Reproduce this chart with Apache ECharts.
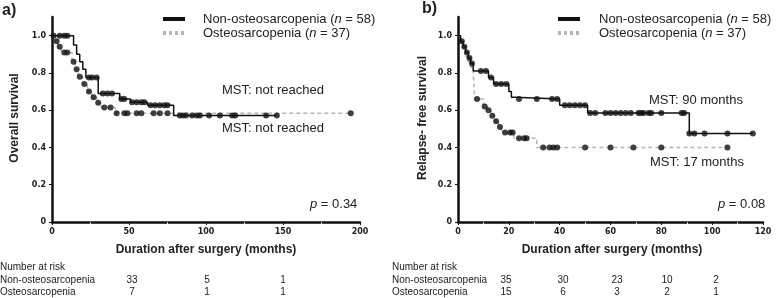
<!DOCTYPE html>
<html>
<head>
<meta charset="utf-8">
<script src="https://cdn.jsdelivr.net/npm/echarts@6/dist/echarts.min.js"></script>
<style>
  html, body { margin: 0; padding: 0; background: #fff; }
  #chart { width: 779px; height: 298px; }
</style>
</head>
<body>
<div id="chart"></div>
<script>
// a) overall survival - step curves (months, survival)
const osNonT = [0, 14, 16, 18, 20, 22, 30, 44, 51, 62, 79, 146];
const osNonS = [1.0, 0.95, 0.9, 0.86, 0.82, 0.775, 0.69, 0.66, 0.643, 0.626, 0.572, 0.572];
const osOstT = [0, 2, 4, 6, 13, 15, 17, 20, 23, 26, 29, 32, 41, 194];
const osOstS = [1.0, 0.97, 0.94, 0.91, 0.86, 0.82, 0.78, 0.74, 0.7, 0.67, 0.64, 0.615, 0.583, 0.583];
// censored points
const osNonCensT = [5, 8, 10, 24, 26, 29, 33, 36, 39, 45, 47, 52, 55, 58, 60, 64, 67, 70, 73, 75, 83, 85, 87, 91, 94, 96, 102, 109, 117, 119, 139, 146];
const osNonCensS = [1.0, 1.0, 1.0, 0.775, 0.775, 0.775, 0.69, 0.69, 0.69, 0.66, 0.66, 0.643, 0.643, 0.643, 0.643, 0.626, 0.626, 0.626, 0.626, 0.626, 0.572, 0.572, 0.572, 0.572, 0.572, 0.572, 0.572, 0.572, 0.572, 0.572, 0.572, 0.572];
const osOstCensT = [1, 3, 5, 8, 10, 14, 16, 18, 21, 24, 27, 30, 34, 38, 42, 47, 49, 55, 58, 66, 70, 75, 194];
const osOstCensS = [1.0, 0.97, 0.94, 0.91, 0.91, 0.86, 0.82, 0.78, 0.74, 0.7, 0.67, 0.64, 0.615, 0.615, 0.583, 0.583, 0.583, 0.583, 0.583, 0.583, 0.583, 0.583, 0.583];

// b) relapse-free survival
const rfsNonT = [0, 1, 2, 3, 4, 5, 6, 12, 14, 20, 21, 22, 40, 51, 91, 116];
const rfsNonS = [1.0, 0.97, 0.94, 0.91, 0.88, 0.85, 0.81, 0.775, 0.74, 0.7, 0.67, 0.66, 0.627, 0.585, 0.475, 0.475];
const rfsOstT = [0, 1, 2, 3, 4, 5, 6, 6.5, 10, 11.5, 13, 14.5, 16, 17, 22, 31, 106];
const rfsOstS = [1.0, 0.96, 0.93, 0.89, 0.86, 0.83, 0.81, 0.66, 0.62, 0.6, 0.57, 0.54, 0.51, 0.48, 0.45, 0.4, 0.4];
const rfsNonCensT = [1.5, 2.5, 3.5, 4.5, 5.5, 9, 11, 13, 15, 17, 19, 24, 31, 37, 39, 42, 44, 46, 48, 50, 52, 54, 58, 60, 62, 64, 66, 68, 71, 72, 73, 75, 76, 80, 88, 89, 91, 93, 97, 106, 116];
const rfsNonCensS = [0.97, 0.94, 0.91, 0.88, 0.85, 0.81, 0.81, 0.775, 0.74, 0.74, 0.74, 0.66, 0.66, 0.66, 0.66, 0.627, 0.627, 0.627, 0.627, 0.627, 0.585, 0.585, 0.585, 0.585, 0.585, 0.585, 0.585, 0.585, 0.585, 0.585, 0.585, 0.585, 0.585, 0.585, 0.585, 0.585, 0.475, 0.475, 0.475, 0.475, 0.475];
const rfsOstCensT = [7.5, 10.5, 12, 13.5, 15, 16.5, 18.5, 20.5, 21.5, 24, 26, 27, 33.5, 36, 37.5, 39, 50, 60, 69, 80, 106];
const rfsOstCensS = [0.66, 0.62, 0.6, 0.57, 0.54, 0.51, 0.48, 0.48, 0.48, 0.45, 0.45, 0.45, 0.4, 0.4, 0.4, 0.4, 0.4, 0.4, 0.4, 0.4, 0.4];

// number at risk
const riskNonA = [33, 5, 1];
const riskOstA = [7, 1, 1];
const riskNonB = [35, 30, 23, 10, 2];
const riskOstB = [15, 6, 3, 2, 1];

const yTicks = [0, 0.2, 0.4, 0.6, 0.8, 1.0];

const zip = (a, b) => a.map((v, i) => [v, b[i]]);

const FONT = '"Liberation Sans", Arial, sans-serif';
const TICKFONT = '"DejaVu Sans", Verdana, sans-serif';

function xAxisOf(gi, max, interval) {
  return {
    type: 'value', gridIndex: gi, min: 0, max: max, interval: interval,
    axisLine: { lineStyle: { color: '#111', width: 2.5 } },
    axisTick: { length: 3, lineStyle: { color: '#111', width: 1 } },
    minorTick: { show: true, splitNumber: 2, length: 2, lineStyle: { color: '#ccc' } },
    splitLine: { show: false },
    axisLabel: { color: '#222', fontSize: 8, fontWeight: 'bold', fontFamily: TICKFONT, margin: 6 },
  };
}
function yAxisOf(gi) {
  return {
    type: 'value', gridIndex: gi, min: 0, max: 1.1, interval: 0.2,
    axisLine: { show: true, lineStyle: { color: '#111', width: 2.5 } },
    axisTick: { show: true, length: 3, customValues: yTicks, lineStyle: { color: '#111' } },
    splitLine: { show: false },
    axisLabel: {
      customValues: yTicks, color: '#222', fontSize: 8, fontWeight: 'bold', fontFamily: TICKFONT, margin: 6,
      formatter: v => (v === 0 ? '0' : v.toFixed(1)),
    },
  };
}
function stepLine(name, gi, t, s, dashed) {
  return {
    name: name, type: 'line', step: 'end', xAxisIndex: gi, yAxisIndex: gi,
    data: zip(t, s), showSymbol: false, silent: true,
    lineStyle: dashed ? { color: '#b5b5b5', width: 1.5, type: [4, 3] } : { color: '#111', width: 1.5 },
    z: dashed ? 2 : 3,
  };
}
function cens(gi, t, s) {
  return {
    type: 'scatter', xAxisIndex: gi, yAxisIndex: gi, data: zip(t, s),
    symbolSize: 6, itemStyle: { color: '#111' }, silent: true, z: 4,
  };
}

function txt(x, y, text, opt) {
  return Object.assign({
    type: 'text', x: x, y: y,
    style: Object.assign({
      text: text, fill: '#222', font: '13px ' + FONT, textAlign: 'left', textVerticalAlign: 'middle',
    }, (opt && opt.style) || {}),
  }, opt && opt.rotation ? { rotation: opt.rotation } : {});
}
function italicText(x, y, text) {
  return {
    type: 'text', x: x, y: y,
    style: {
      text: text, fill: '#222', font: '13px ' + FONT, textVerticalAlign: 'middle',
      rich: { i: { fontStyle: 'italic', fontSize: 13, fontFamily: FONT, fill: '#222' } },
    },
  };
}

const graphics = [];
// panel letters
graphics.push(txt(2, 11, 'a)', { style: { font: 'bold 16px ' + FONT } }));
graphics.push(txt(422, 9, 'b)', { style: { font: 'bold 16px ' + FONT } }));
// legends
[[163, 203], [558, 599]].forEach(([x0, t0]) => {
  graphics.push({ type: 'line', shape: { x1: x0, y1: 19, x2: x0 + 22, y2: 19 }, style: { stroke: '#111', lineWidth: 4 } });
  graphics.push({ type: 'line', shape: { x1: x0, y1: 33, x2: x0 + 22, y2: 33 }, style: { stroke: '#b5b5b5', lineWidth: 4, lineDash: [3, 3] } });
  graphics.push(italicText(t0, 19, 'Non-osteosarcopenia ({i|n} = 58)'));
  graphics.push(italicText(t0, 33, 'Osteosarcopenia ({i|n} = 37)'));
});
// MST labels
graphics.push(txt(222, 90, 'MST: not reached'));
graphics.push(txt(222, 128, 'MST: not reached'));
graphics.push(txt(649, 100, 'MST: 90 months'));
graphics.push(txt(650, 162, 'MST: 17 months'));
// p values
graphics.push(italicText(310, 204, '{i|p} = 0.34'));
graphics.push(italicText(718, 204, '{i|p} = 0.08'));
// axis titles
graphics.push(txt(206, 250, 'Duration after surgery (months)', { style: { font: 'bold 12px ' + FONT, textAlign: 'center' } }));
graphics.push(txt(612, 250, 'Duration after surgery (months)', { style: { font: 'bold 12px ' + FONT, textAlign: 'center' } }));
graphics.push(txt(15, 118, 'Overall survival', { rotation: Math.PI / 2, style: { font: 'bold 12px ' + FONT, textAlign: 'center' } }));
graphics.push(txt(423, 118, 'Relapse- free survival', { rotation: Math.PI / 2, style: { font: 'bold 12px ' + FONT, textAlign: 'center' } }));
// number at risk tables
const riskColsA = [132, 207, 283];
const riskColsB = [506, 563, 617, 667, 716];
[[0, riskColsA, riskNonA, riskOstA], [392, riskColsB, riskNonB, riskOstB]].forEach(([x0, cols, non, ost]) => {
  const small = { style: { font: '10px ' + FONT } };
  graphics.push(txt(x0, 267, 'Number at risk', small));
  graphics.push(txt(x0, 280, 'Non-osteosarcopenia', small));
  graphics.push(txt(x0, 292, 'Osteosarcopenia', small));
  cols.forEach((cx, i) => {
    graphics.push(txt(cx, 280, String(non[i]), { style: { font: '10px ' + FONT, textAlign: 'center' } }));
    graphics.push(txt(cx, 292, String(ost[i]), { style: { font: '10px ' + FONT, textAlign: 'center' } }));
  });
});

const chart = echarts.init(document.getElementById('chart'), null, { renderer: 'canvas' });
chart.setOption({
  animation: false,
  backgroundColor: '#fff',
  grid: [
    { left: 52, top: 17, width: 308, height: 205 },
    { left: 458, top: 17, width: 305, height: 205 },
  ],
  xAxis: [xAxisOf(0, 200, 50), xAxisOf(1, 120, 20)],
  yAxis: [yAxisOf(0), yAxisOf(1)],
  series: [
    stepLine('Osteosarcopenia', 0, osOstT, osOstS, true),
    stepLine('Non-osteosarcopenia', 0, osNonT, osNonS, false),
    cens(0, osOstCensT, osOstCensS),
    cens(0, osNonCensT, osNonCensS),
    stepLine('Osteosarcopenia', 1, rfsOstT, rfsOstS, true),
    stepLine('Non-osteosarcopenia', 1, rfsNonT, rfsNonS, false),
    cens(1, rfsOstCensT, rfsOstCensS),
    cens(1, rfsNonCensT, rfsNonCensS),
  ],
  graphic: graphics,
});
window.addEventListener('resize', () => chart.resize());
</script>
</body>
</html>
